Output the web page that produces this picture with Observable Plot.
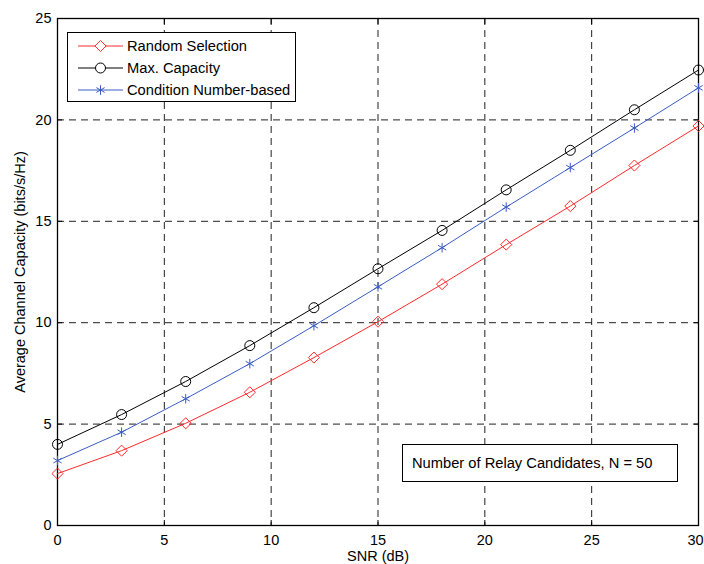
<!DOCTYPE html>
<html><head><meta charset="utf-8">
<script src="https://cdn.jsdelivr.net/npm/d3@7"></script>
<script src="https://cdn.jsdelivr.net/npm/@observablehq/plot@0.6"></script>
<style>
body{margin:0;background:#fff;font-family:"Liberation Sans",Arial,sans-serif;}
#wrap{position:relative;width:704px;height:564px;overflow:hidden;}
.box{position:absolute;border:1px solid #000;background:#fff;box-sizing:border-box;font-size:14.7px;color:#000;}
.row{position:absolute;left:0;height:20px;display:flex;align-items:center;}
.row svg{display:block;}
.row span{margin-left:3px;white-space:nowrap;}
</style>
</head><body>
<div id="wrap"></div>
<script>
const snr = [0, 3, 6, 9, 12, 15, 18, 21, 24, 27, 30];
const randomSelection = [2.56, 3.69, 5.04, 6.57, 8.28, 10.05, 11.9, 13.85, 15.75, 17.75, 19.7];
const maxCapacity = [4.0, 5.47, 7.1, 8.87, 10.74, 12.66, 14.55, 16.55, 18.5, 20.5, 22.46];
const conditionNumber = [3.2, 4.6, 6.25, 7.98, 9.85, 11.77, 13.7, 15.7, 17.65, 19.6, 21.58];
const seriesNames = ["Random Selection", "Max. Capacity", "Condition Number-based"];
const xTicks = [0, 5, 10, 15, 20, 25, 30];
const yTicks = [0, 5, 10, 15, 20, 25];
const annotation = "Number of Relay Candidates, N = 50";

const colors = {"Random Selection": "#ff2a2a", "Max. Capacity": "#000000", "Condition Number-based": "#3a5cc4"};
const symbols = {"Random Selection": "diamond2", "Max. Capacity": "circle", "Condition Number-based": "asterisk"};

const seriesValues = [randomSelection, maxCapacity, conditionNumber];
const data = seriesNames.flatMap((name, i) => snr.map((x, j) => ({name, x, y: seriesValues[i][j]})));

const lastX = xTicks[xTicks.length - 1];
const marks = [
  Plot.gridX(xTicks, {stroke: "#222", strokeOpacity: 1, strokeDasharray: "7,5"}),
  Plot.gridY(yTicks, {stroke: "#222", strokeOpacity: 1, strokeDasharray: "7,5"}),
  Plot.axisX(xTicks.filter(t => t !== lastX), {anchor: "bottom", tickSize: 0, tickPadding: 9, fontSize: 14.5, label: "SNR (dB)", labelAnchor: "center", labelOffset: 35, labelArrow: "none"}),
  Plot.axisX([lastX], {anchor: "bottom", tickSize: 0, tickPadding: 9, fontSize: 14.5, dx: -3, label: null}),
  Plot.axisY(yTicks, {anchor: "left", tickSize: 0, tickPadding: 6, fontSize: 14.5, label: "Average Channel Capacity (bits/s/Hz)", labelAnchor: "center", labelOffset: 43, labelArrow: "none"}),
  Plot.axisX(xTicks, {anchor: "bottom", tickSize: -5, tickFormat: () => "", label: null}),
  Plot.axisX(xTicks, {anchor: "top", tickSize: -5, tickFormat: () => "", label: null}),
  Plot.axisY(yTicks, {anchor: "left", tickSize: -5, tickFormat: () => "", label: null}),
  Plot.axisY(yTicks, {anchor: "right", tickSize: -5, tickFormat: () => "", label: null}),
  Plot.frame({stroke: "#000", strokeWidth: 1.3}),
];
seriesNames.forEach(name => {
  const d = data.filter(e => e.name === name);
  marks.push(Plot.line(d, {x: "x", y: "y", stroke: colors[name], strokeWidth: 1}));
  marks.push(Plot.dot(d, {x: "x", y: "y", stroke: colors[name], fill: "none", symbol: symbols[name], r: name === "Condition Number-based" ? 4.5 : 5, strokeWidth: 1}));
});

const chart = Plot.plot({
  width: 704, height: 564,
  marginLeft: 57, marginRight: 6, marginTop: 18, marginBottom: 39,
  style: {fontFamily: "Liberation Sans, Arial, sans-serif", fontSize: "14.7px", color: "#000", background: "#fff"},
  x: {domain: [0, 30]},
  y: {domain: [0, 25]},
  marks
});
const wrap = document.getElementById("wrap");
wrap.appendChild(chart);

// legend
const legend = document.createElement("div");
legend.className = "box";
Object.assign(legend.style, {left: "67px", top: "32px", width: "229px", height: "70px"});
seriesNames.forEach((name, i) => {
  const row = document.createElement("div");
  row.className = "row";
  row.style.top = (3 + i * 22) + "px";
  row.style.left = "9px";
  const s = d3.create("svg").attr("width", 47).attr("height", 20);
  s.append("line").attr("x1", 1).attr("x2", 46).attr("y1", 10).attr("y2", 10).attr("stroke", colors[name]);
  const symMap = {diamond2: d3.symbolDiamond2, circle: d3.symbolCircle, asterisk: d3.symbolAsterisk};
  const r = name === "Condition Number-based" ? 4.5 : 5;
  s.append("path").attr("transform", "translate(23.5,10)")
    .attr("d", d3.symbol(symMap[symbols[name]], Math.PI * r * r)())
    .attr("fill", name === "Condition Number-based" ? "none" : "#fff").attr("stroke", colors[name]);
  row.appendChild(s.node());
  const t = document.createElement("span");
  t.textContent = name;
  row.appendChild(t);
  legend.appendChild(row);
});
wrap.appendChild(legend);

// annotation
const ann = document.createElement("div");
ann.className = "box";
Object.assign(ann.style, {left: "402px", top: "444px", width: "276px", height: "38px", lineHeight: "36px", paddingLeft: "9px"});
ann.textContent = annotation;
wrap.appendChild(ann);
</script>
</body></html>
